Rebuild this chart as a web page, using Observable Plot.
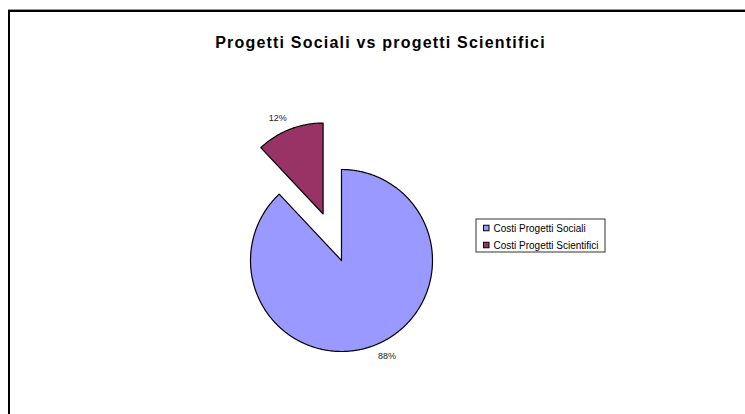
<!DOCTYPE html>
<html>
<head>
<meta charset="utf-8">
<script src="https://cdn.jsdelivr.net/npm/d3@7"></script>
<script src="https://cdn.jsdelivr.net/npm/@observablehq/plot@0.6"></script>
<style>
  html, body { margin: 0; padding: 0; background: #fff; }
  #wrap { position: relative; width: 745px; height: 414px; overflow: hidden; background: #fff; }
  #frame { position: absolute; left: 8px; top: 10px; width: 800px; height: 500px;
           border-top: 2px solid #000; border-left: 2px solid #000; box-shadow: 0 -1px 0 #999; }
  #chart { position: absolute; left: 0; top: 0; }
</style>
</head>
<body>
<div id="wrap"><div id="frame"></div><div id="chart"></div></div>
<script>
// ---- data ----
const title = "Progetti Sociali vs progetti Scientifici";
const categories = ["Costi Progetti Sociali", "Costi Progetti Scientifici"];
const values = [88, 12];
const percentLabels = ["88%", "12%"];
const colors = ["#9999FF", "#993366"];
const explodeOffsets = [0, 50];

// ---- layout ----
const W = 745, H = 414;
const cx = 341, cy = 260, r = 91;
const labelR = 106, labelAngleShift = -0.066;
const font = "Arial, 'Liberation Sans', Helvetica, sans-serif";

const arcs = d3.pie().sort(null).value(d => d)(values);

const slices = arcs.map((a, i) => {
  const mid = (a.startAngle + a.endAngle) / 2;
  const ox = cx + explodeOffsets[i] * Math.sin(mid);
  const oy = cy - explodeOffsets[i] * Math.cos(mid);
  const pts = [{x: ox, y: oy}];
  const n = Math.max(8, Math.ceil((a.endAngle - a.startAngle) / 0.01));
  for (let k = 0; k <= n; k++) {
    const t = a.startAngle + (a.endAngle - a.startAngle) * k / n;
    pts.push({x: ox + r * Math.sin(t), y: oy - r * Math.cos(t)});
  }
  const la = mid + labelAngleShift;
  return {
    pts, color: colors[i], category: categories[i],
    label: {x: ox + labelR * Math.sin(la), y: oy - labelR * Math.cos(la), text: percentLabels[i]}
  };
});

// legend layout
const legX1 = 476, legX2 = 605, legY1 = 219, legY2 = 252;
const legendRows = categories.map((c, i) => ({
  name: c, color: colors[i],
  y: legY1 + 9 + i * 17
}));

const marks = [];
slices.forEach(s => {
  marks.push(Plot.line(s.pts, {
    x: "x", y: "y", fill: s.color, stroke: "#000", strokeWidth: 1.2,
    curve: "linear-closed"
  }));
});
marks.push(Plot.text(slices.map(s => s.label), {
  x: "x", y: "y", text: "text", fontSize: 9, fontFamily: font, fill: "#222"
}));
// title
marks.push(Plot.text([title], {
  x: () => 380, y: () => 42, text: d => d, fontSize: 16, fontWeight: "bold",
  fontFamily: font, fill: "#000"
}));
// legend box
marks.push(Plot.rect([0], {
  x1: () => legX1, x2: () => legX2, y1: () => legY1, y2: () => legY2,
  fill: "#fff", stroke: "#333", strokeWidth: 1
}));
marks.push(Plot.rect(legendRows, {
  x1: () => 483.5, x2: () => 489, y1: d => d.y - 2.75, y2: d => d.y + 2.75,
  fill: "color", stroke: "#000", strokeWidth: 1
}));
marks.push(Plot.text(legendRows, {
  x: () => 493, y: "y", text: "name", textAnchor: "start", fontSize: 10,
  fontFamily: font, fill: "#000"
}));

const plot = Plot.plot({
  width: W, height: H,
  marginTop: 0, marginRight: 0, marginBottom: 0, marginLeft: 0,
  x: {domain: [0, W], range: [0, W], axis: null},
  y: {domain: [0, H], range: [0, H], axis: null},
  style: {background: "transparent", overflow: "visible"},
  marks
});
plot.querySelectorAll("text").forEach(t => {
  if (t.textContent === title) t.style.letterSpacing = "1.2px";
});
document.getElementById("chart").appendChild(plot);
</script>
</body>
</html>
